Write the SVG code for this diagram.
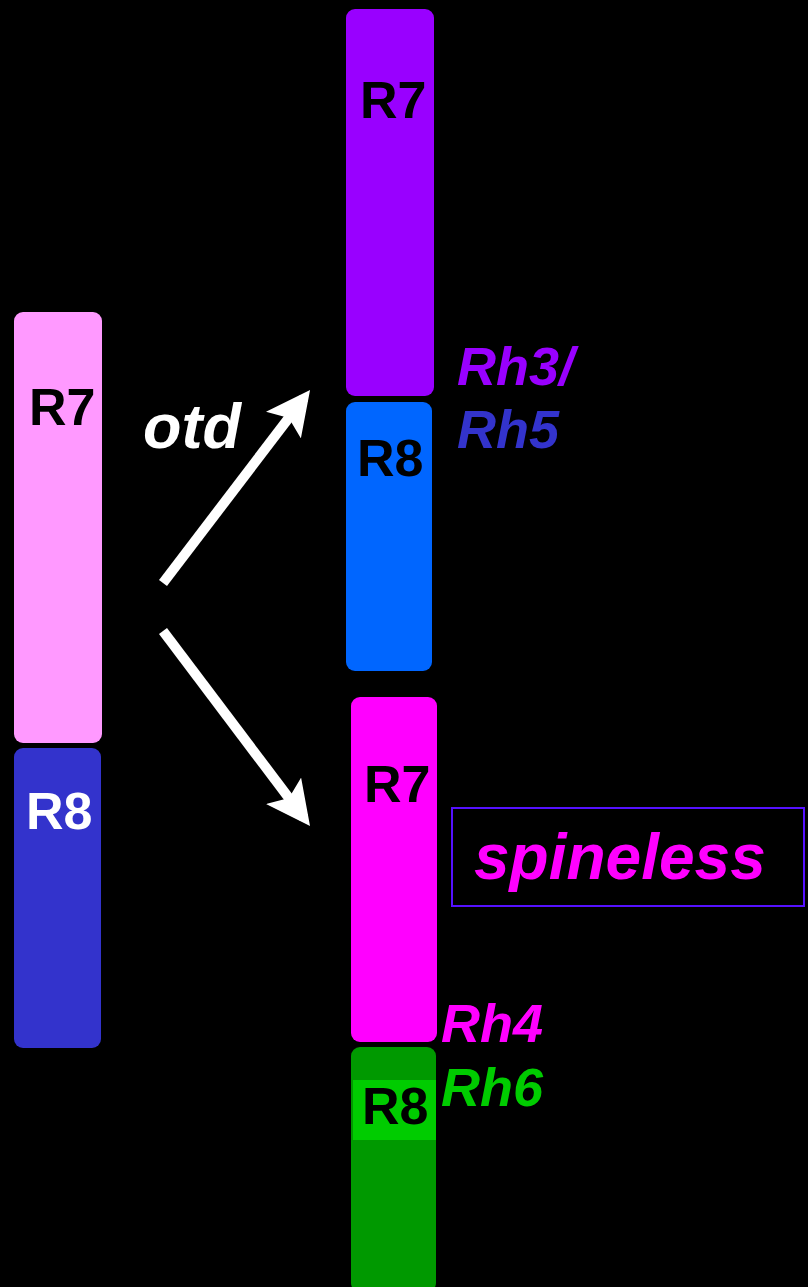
<svg xmlns="http://www.w3.org/2000/svg" width="808" height="1287" viewBox="0 0 808 1287">
<defs>
<style>
.lbl{font-family:"Liberation Sans",Arial,sans-serif;font-weight:bold;font-size:52px;fill:#000}
.it{font-family:"Liberation Sans",Arial,sans-serif;font-weight:bold;font-style:italic}
</style>
<marker id="ah" markerWidth="4.4" markerHeight="4.4" refX="3.4" refY="2.2" orient="auto" markerUnits="strokeWidth">
<path d="M0,0 L4.4,2.2 L0,4.4 L0.9,2.2 Z" fill="#fff"/>
</marker>
</defs>
<rect width="808" height="1287" fill="#000"/>
<g id="left-R7"><rect x="14" y="312" width="88" height="431" rx="9" fill="#ff99ff"/><text class="lbl" x="29" y="425">R7</text></g>
<g id="left-R8"><rect x="14" y="748" width="87" height="300" rx="9" fill="#3333cc"/><text class="lbl" x="26" y="829" style="fill:#fff">R8</text></g>
<g id="top-R7"><rect x="346" y="9" width="88" height="387" rx="9" fill="#9900ff"/><text class="lbl" x="360" y="118">R7</text></g>
<g id="top-R8"><rect x="346" y="402" width="86" height="269" rx="9" fill="#0066ff"/><text class="lbl" x="357" y="476">R8</text></g>
<g id="bottom-R7"><rect x="351" y="697" width="86" height="345" rx="9" fill="#ff00ff"/><text class="lbl" x="364" y="802">R7</text></g>
<g id="bottom-R8"><rect x="351" y="1047" width="85" height="245" rx="9" fill="#009900"/><rect x="353" y="1080" width="83" height="60" fill="#00cc00"/><text class="lbl" x="362" y="1124">R8</text></g>
<g id="otd"><text class="it" x="143" y="448" font-size="63" fill="#fff">otd</text></g>
<g id="rh35"><text class="it" x="457" y="385" font-size="54" fill="#9900ff">Rh3/</text><text class="it" x="457" y="448" font-size="54" fill="#3333cc">Rh5</text></g>
<g id="spineless"><rect x="452" y="808" width="352" height="98" fill="none" stroke="#5511ff" stroke-width="2"/><text class="it" x="474" y="879" font-size="64" fill="#ff00ff">spineless</text></g>
<g id="rh46"><text class="it" x="441" y="1042" font-size="54" fill="#ff00ff">Rh4</text><text class="it" x="441" y="1106" font-size="54" fill="#00cc00">Rh6</text></g>
<g id="connectors" stroke="#fff" stroke-width="10" fill="none">
<line x1="163" y1="583" x2="304" y2="398" marker-end="url(#ah)"/>
<line x1="163" y1="631" x2="304" y2="818" marker-end="url(#ah)"/>
</g>
</svg>
